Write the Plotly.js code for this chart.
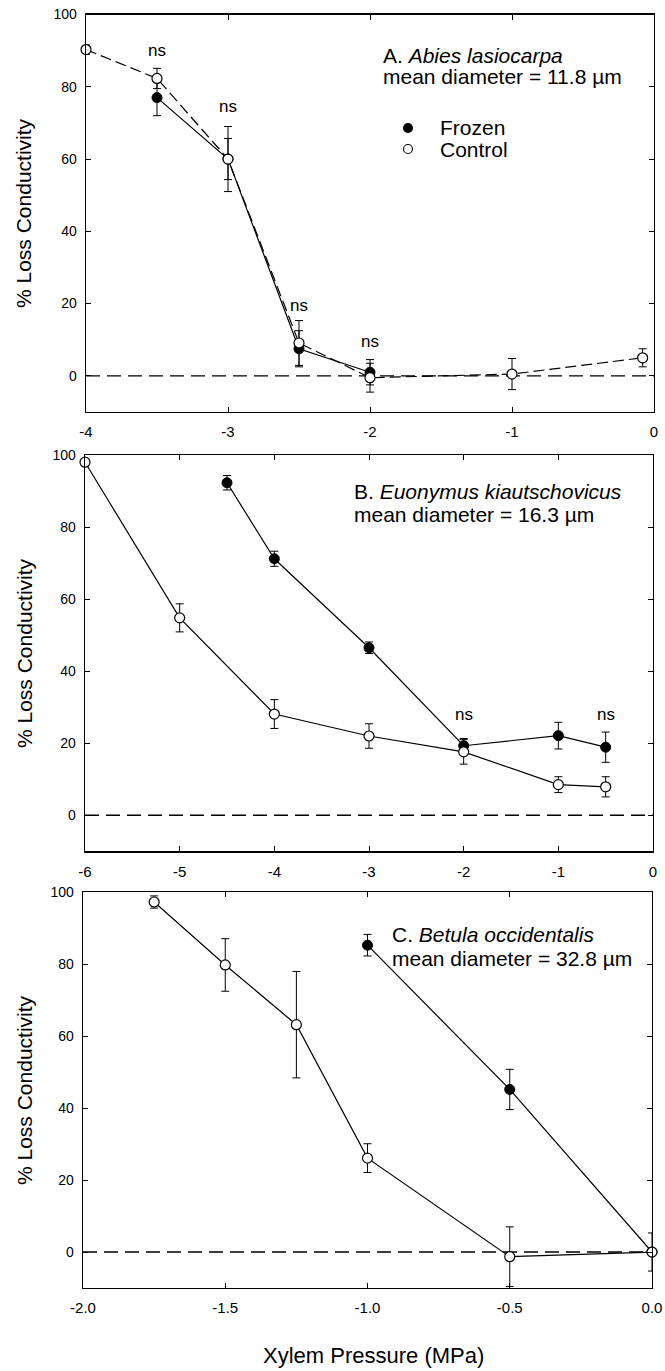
<!DOCTYPE html>
<html>
<head>
<meta charset="utf-8">
<script src="https://cdn.plot.ly/plotly-3.0.1.min.js"></script>
<style>html,body{margin:0;padding:0;background:#fff;}#chart{width:665px;height:1371px;}</style>
</head>
<body>
<div id="chart"></div>
<script>
// ---------- DATA ----------
// Panel A: Abies lasiocarpa
const aFrozenX = [-3.5, -3, -2.5, -2];
const aFrozenY = [77, 60, 7.5, 1];
const aFrozenErr = [5, 5.7, 5, 3.5];
const aControlX = [-4, -3.5, -3, -2.5, -2, -1, -0.08];
const aControlY = [90.3, 82.3, 60, 9.1, -0.5, 0.5, 5];
const aControlErr = [1.3, 2.8, 9, 6.2, 4, 4.3, 2.5];
const aNsX = [-3.5, -3, -2.5, -2];
const aNsY = [90, 74.5, 19.5, 9.5];

// Panel B: Euonymus kiautschovicus
const bFrozenX = [-4.5, -4, -3, -2, -1, -0.5];
const bFrozenY = [92.3, 71.2, 46.5, 19.3, 22.1, 18.9];
const bFrozenErr = [2, 2.1, 1.6, 2, 3.7, 4.2];
const bControlX = [-6, -5, -4, -3, -2, -1, -0.5];
const bControlY = [98, 54.8, 28.1, 22, 17.6, 8.5, 7.9];
const bControlErr = [1, 3.9, 4, 3.4, 3.4, 2.2, 2.8];
const bNsX = [-2, -0.5];
const bNsY = [28, 28];

// Panel C: Betula occidentalis
const cFrozenX = [-1.0, -0.5, 0];
const cFrozenY = [85.3, 45.2, 0];
const cFrozenErr = [3, 5.6, 0];
const cControlX = [-1.75, -1.5, -1.25, -1.0, -0.5, 0];
const cControlY = [97.3, 79.8, 63.2, 26.1, -1.3, 0];
const cControlErr = [1.7, 7.3, 14.8, 4, 8.3, 5.3];

// Tick labels
const yTickVals = [0, 20, 40, 60, 80, 100];
const yTickText = ["0", "20", "40", "60", "80", "100"];
const abTickValsA = [-4, -3, -2, -1, 0];
const abTickTextA = ["-4", "-3", "-2", "-1", "0"];
const bTickVals = [-6, -5, -4, -3, -2, -1, 0];
const bTickText = ["-6", "-5", "-4", "-3", "-2", "-1", "0"];
const cTickVals = [-2.0, -1.5, -1.0, -0.5, 0.0];
const cTickText = ["-2.0", "-1.5", "-1.0", "-0.5", "0.0"];

// ---------- LAYOUT HELPERS ----------
const W = 665, H = 1371;
const px = v => v / W;
const py = v => 1 - v / H;
const FONT = "Liberation Sans, Arial, Helvetica, sans-serif";

function errSpec(arr) {
  return {type: 'data', array: arr, visible: true, color: '#000', thickness: 1, width: 4};
}
function frozenTrace(x, y, e, xa, ya) {
  return {x: x, y: y, error_y: errSpec(e), xaxis: xa, yaxis: ya, mode: 'lines+markers',
    type: 'scatter', cliponaxis: false, showlegend: false, hoverinfo: 'skip',
    line: {color: '#000', width: 1.2},
    marker: {symbol: 'circle', size: 10, color: '#000', line: {color: '#000', width: 1}}};
}
function controlTrace(x, y, e, xa, ya, dash) {
  return {x: x, y: y, error_y: errSpec(e), xaxis: xa, yaxis: ya, mode: 'lines+markers',
    type: 'scatter', cliponaxis: false, showlegend: false, hoverinfo: 'skip',
    line: {color: '#000', width: 1.2, dash: dash},
    marker: {symbol: 'circle', size: 10, color: '#fff', line: {color: '#000', width: 1.2}}};
}

const data = [
  frozenTrace(aFrozenX, aFrozenY, aFrozenErr, 'x', 'y'),
  controlTrace(aControlX, aControlY, aControlErr, 'x', 'y', '11px,5px'),
  frozenTrace(bFrozenX, bFrozenY, bFrozenErr, 'x2', 'y2'),
  controlTrace(bControlX, bControlY, bControlErr, 'x2', 'y2', 'solid'),
  frozenTrace(cFrozenX, cFrozenY, cFrozenErr, 'x3', 'y3'),
  controlTrace(cControlX, cControlY, cControlErr, 'x3', 'y3', 'solid')
];

function xAx(domain, range, tv, tt, anchor) {
  return {domain: domain, range: range, anchor: anchor, tickmode: 'array', tickvals: tv, ticktext: tt,
    ticks: 'inside', ticklen: 5, tickwidth: 1, tickcolor: '#000', mirror: 'ticks',
    showline: true, linecolor: '#000', linewidth: 1.3, showgrid: false, zeroline: false,
    ticklabelstandoff: 6, tickfont: {family: FONT, size: 15, color: '#000'}};
}
function yAx(domain, anchor) {
  return {domain: domain, range: [-10, 100], anchor: anchor, tickmode: 'array', tickvals: yTickVals, ticktext: yTickText,
    ticks: 'inside', ticklen: 5, tickwidth: 1, tickcolor: '#000', mirror: 'ticks',
    showline: true, linecolor: '#000', linewidth: 1.3, showgrid: false, zeroline: false,
    ticklabelstandoff: 5, tickfont: {family: FONT, size: 14, color: '#000'}};
}

const annotations = [];
function txt(text, x, y, size, xanchor, extra) {
  annotations.push(Object.assign({text: text, x: px(x), y: py(y), xref: 'paper', yref: 'paper',
    xanchor: xanchor || 'left', yanchor: 'middle', showarrow: false,
    font: {family: FONT, size: size, color: '#000'}}, extra || {}));
}
// Panel titles
txt('A. <i>Abies lasiocarpa</i>', 381, 55, 21);
txt('mean diameter = 11.8 µm', 381, 77, 21);
txt('Frozen', 438, 128, 21);
txt('Control', 438, 149, 21);
txt('B. <i>Euonymus kiautschovicus</i>', 352, 491, 21);
txt('mean diameter = 16.3 µm', 352, 514, 21);
txt('C. <i>Betula occidentalis</i>', 390, 935, 21);
txt('mean diameter = 32.8 µm', 390, 958, 21);
// Y titles
[213, 653, 1090].forEach(c => txt('% Loss Conductivity', 24, c, 21, 'center', {textangle: -90}));
// X title
txt('Xylem Pressure (MPa)', 373, 1355, 22, 'center');
// ns labels
aNsX.forEach((x, i) => annotations.push({text: 'ns', x: x, y: aNsY[i], xref: 'x', yref: 'y', showarrow: false,
  xanchor: 'center', yanchor: 'middle', font: {family: FONT, size: 17, color: '#000'}}));
bNsX.forEach((x, i) => annotations.push({text: 'ns', x: x, y: bNsY[i], xref: 'x2', yref: 'y2', showarrow: false,
  xanchor: 'center', yanchor: 'middle', font: {family: FONT, size: 17, color: '#000'}}));

// Zero reference lines and legend symbols
const shapes = [];
['', '2', '3'].forEach(s => shapes.push({type: 'line', xref: 'x' + s + ' domain', yref: 'y' + s,
  x0: 0, x1: 1, y0: 0, y1: 0, line: {color: '#000', width: 1.4, dash: '14px,7px'}, layer: 'below'}));
function legendDot(cx, cy, fill) {
  shapes.push({type: 'circle', xref: 'paper', yref: 'paper', xsizemode: 'pixel', ysizemode: 'pixel',
    xanchor: px(cx), yanchor: py(cy), x0: -4.5, x1: 4.5, y0: -4.5, y1: 4.5,
    fillcolor: fill, line: {color: '#000', width: 1.1}});
}
legendDot(408, 128, '#000');
legendDot(408, 149, '#fff');

const layout = {
  width: W, height: H, margin: {l: 0, r: 0, t: 0, b: 0},
  paper_bgcolor: '#fff', plot_bgcolor: '#fff', showlegend: false,
  font: {family: FONT, color: '#000'},
  xaxis: xAx([px(86), px(654)], [-4, 0], abTickValsA, abTickTextA, 'y'),
  yaxis: yAx([py(412), py(14.5)], 'x'),
  xaxis2: xAx([px(85), px(653)], [-6, 0], bTickVals, bTickText, 'y2'),
  yaxis2: yAx([py(851.3), py(455)], 'x2'),
  xaxis3: xAx([px(83), px(652)], [-2, 0], cTickVals, cTickText, 'y3'),
  yaxis3: yAx([py(1288), py(892.3)], 'x3'),
  annotations: annotations,
  shapes: shapes
};

Plotly.newPlot('chart', data, layout, {staticPlot: true, displayModeBar: false});
</script>
</body>
</html>
